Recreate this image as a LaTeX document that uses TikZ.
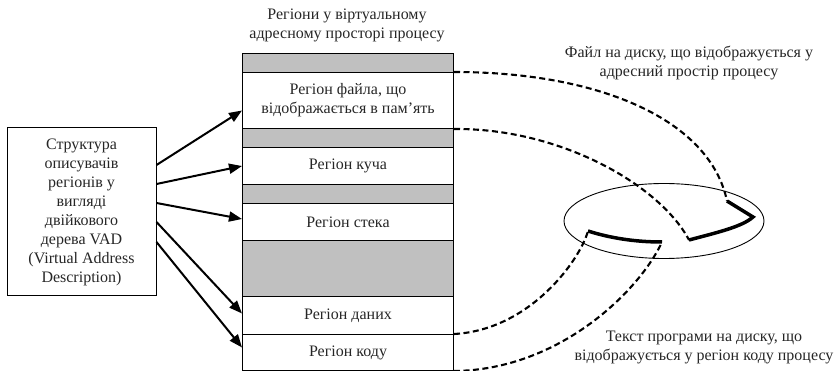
\documentclass[tikz,border=0pt]{standalone}
\usepackage{fontspec}
\setmainfont{Liberation Serif}
\usetikzlibrary{arrows.meta,shapes.geometric}
\definecolor{regiongray}{RGB}{192,192,192}
\begin{document}
\begin{tikzpicture}[x=1pt,y=-1pt,
  every node/.style={font=\fontsize{16}{19}\selectfont, text=black!85},
  region/.style={draw, line width=1pt, minimum width=211pt, inner sep=0pt, anchor=north west},
  gap/.style={region, fill=regiongray},
  label/.style={align=center, inner sep=0pt},
  vadbox/.style={draw, line width=1pt, minimum width=149pt, minimum height=168pt, align=center, inner sep=2pt},
  ptr/.style={line width=2pt, -{Triangle[length=13pt,width=10pt]}},
  link/.style={line width=2.1pt, dash pattern=on 6pt off 3.5pt},
  track/.style={line width=3.5pt}]
\useasboundingbox (0,0) rectangle (836,371);

% virtual address space column
\node[gap]    (g1)    at (242,53)  [minimum height=19pt] {};
\node[region] (file)  at (242,72)  [minimum height=56pt, align=center] {Регіон файла, що\\відображається в пам’ять};
\node[gap]    (g2)    at (242,128) [minimum height=19pt] {};
\node[region] (heap)  at (242,147) [minimum height=37pt] {Регіон куча};
\node[gap]    (g3)    at (242,184) [minimum height=19pt] {};
\node[region] (stack) at (242,203) [minimum height=37pt] {Регіон стека};
\node[gap]    (g4)    at (242,240) [minimum height=56pt] {};
\node[region] (data)  at (242,296) [minimum height=38pt] {Регіон даних};
\node[region] (code)  at (242,334) [minimum height=36pt] {Регіон коду};

\node[label] (title) at (347,25) {Регіони у віртуальному\\адресному просторі процесу};

% VAD tree descriptor box
\node[vadbox] (vad) at (81.5,212) {Структура\\описувачів\\регіонів у\\вигляді\\двійкового\\дерева VAD\\(Virtual Address\\Description)};

\draw[ptr] ([yshift=47pt]vad.east)  -- ([yshift=-10pt]file.west);
\draw[ptr] ([yshift=28pt]vad.east)  -- (heap.west);
\draw[ptr] ([yshift=9pt]vad.east)   -- ([yshift=3pt]stack.west);
\draw[ptr] ([yshift=-10pt]vad.east) -- ([yshift=2pt]data.west);
\draw[ptr] ([yshift=-30pt]vad.east) -- ([yshift=5pt]code.west);

% disk
\node[draw, ellipse, line width=0.9pt, minimum width=200pt, minimum height=75pt, inner sep=0pt] (disk) at (664,221) {};
\coordinate (textA) at (588,231);
\coordinate (textB) at (662,242);
\coordinate (fileA) at (689,240);
\coordinate (fileB) at (727,201);
\draw[track] (textA) .. controls (610,238) and (635,242) .. (textB);
\draw[track] (fileA) .. controls (715,233) and (742,227) .. (753,217) -- (fileB);

% mappings
\draw[link] (file.north east) .. controls (600,72) and (710,120) .. (fileB);
\draw[link] (file.south east) .. controls (560,128) and (660,185) .. (fileA);
\draw[link] (code.north east) .. controls (530,330) and (580,260) .. (textA);
\draw[link] (code.south east) .. controls (560,370) and (640,290) .. (textB);

\node[label] (filecap) at (689,63) {Файл на диску, що відображується у\\адресний простір процесу};
\node[label] (textcap) at (704,347) {Текст програми на диску, що\\відображується у регіон коду процесу};
\end{tikzpicture}
\end{document}
